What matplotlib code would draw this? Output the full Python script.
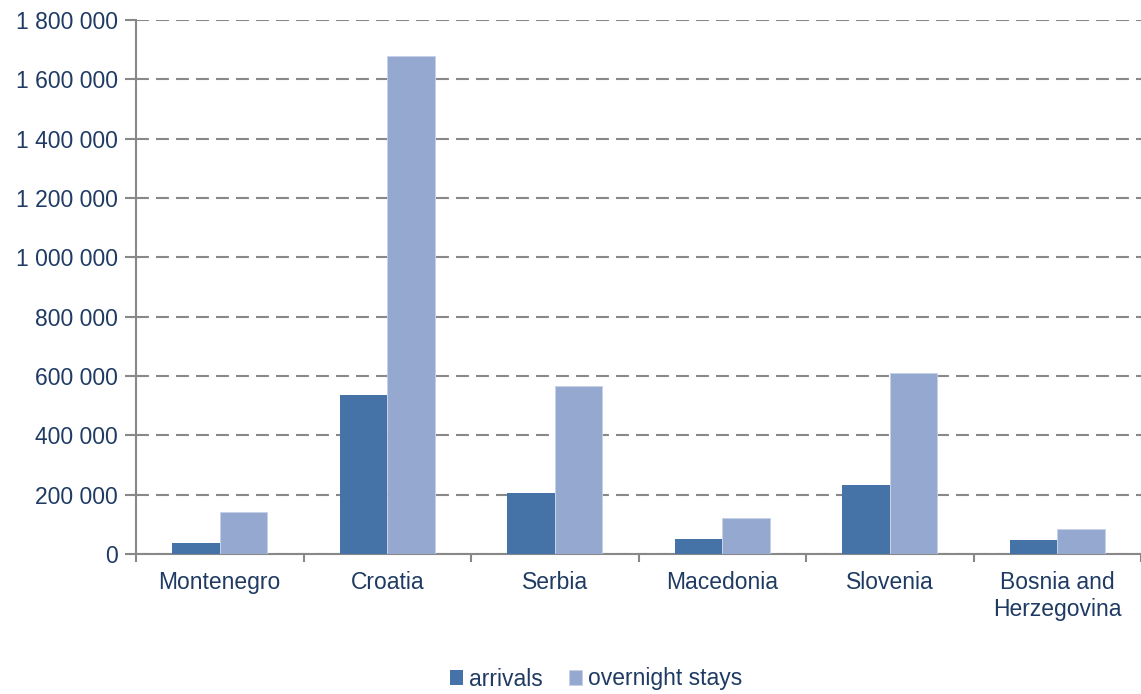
import numpy as np
import matplotlib.pyplot as plt
from matplotlib.ticker import FuncFormatter

countries = ['Montenegro', 'Croatia', 'Serbia', 'Macedonia', 'Slovenia', 'Bosnia and\nHerzegovina']
arrivals = [36000, 536000, 207000, 51000, 233000, 46000]
overnight_stays = [142000, 1680000, 567000, 121000, 609000, 85000]

plt.rcParams['font.family'] = ['Liberation Sans', 'DejaVu Sans']
text_col = '#1F3B63'
axis_col = '#888888'
fs = 16.5

fig = plt.figure(figsize=(11.41, 6.94), dpi=100)
ax = fig.add_axes([136 / 1141, (694 - 554) / 694, 1 - 136 / 1141, (554 - 20) / 694])

x = np.arange(len(countries))
w = 0.283
ax.bar(x - w / 2, arrivals, w, color='#4673A7', label='arrivals', zorder=3)
ax.bar(x + w / 2, overnight_stays, w, color='#95A9D0', edgecolor='#C5D1E8', linewidth=0.6,
       label='overnight stays', zorder=3)

ax.set_ylim(0, 1800000)
ax.set_yticks(np.arange(0, 1800001, 200000))
ax.yaxis.set_major_formatter(FuncFormatter(lambda v, p: f'{int(v):,}'.replace(',', ' ')))
ax.set_xlim(-0.5, 5.5 - 3 / 168)
ax.set_xticks(np.arange(-0.5, 5.6, 1))
ax.set_xticklabels([])
ax.set_xticks(x, minor=True)
ax.set_xticklabels(countries, minor=True, linespacing=1.25)
ax.tick_params(axis='x', which='minor', length=0, pad=12, labelsize=fs, labelcolor=text_col)
ax.tick_params(axis='x', which='major', length=6, width=1.5, color=axis_col, direction='out')
ax.tick_params(axis='y', length=8, width=1.5, color=axis_col, labelsize=fs, labelcolor=text_col, pad=5)

ax.yaxis.grid(True, color=axis_col, linestyle=(0, (6.2, 3.4)), linewidth=1.5, zorder=0)
for s in ['top', 'right']:
    ax.spines[s].set_visible(False)
for s in ['left', 'bottom']:
    ax.spines[s].set_color(axis_col)
    ax.spines[s].set_linewidth(1.5)

leg = fig.legend(loc='center', bbox_to_anchor=(596 / 1141, 15 / 694), ncol=2, frameon=False,
                 fontsize=fs, handlelength=0.6, handleheight=0.6, handletextpad=0.25,
                 columnspacing=1.13)
for t in leg.get_texts():
    t.set_color(text_col)

fig.savefig('out.png', dpi=100)
